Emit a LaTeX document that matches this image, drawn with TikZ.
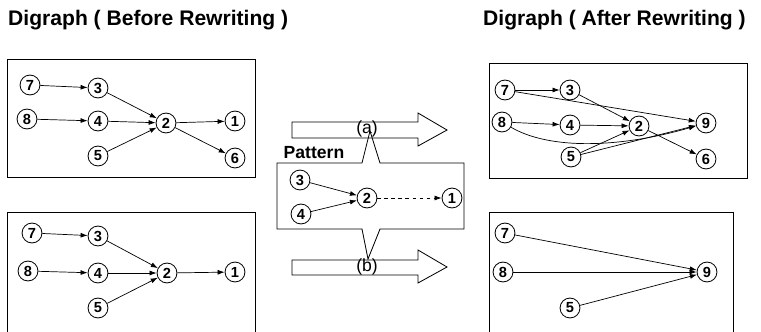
\documentclass[tikz,border=0pt]{standalone}
\usepackage{fontspec}
\setmainfont{Liberation Sans}
\usetikzlibrary{arrows.meta}
\begin{document}
\begin{tikzpicture}[x=0.03cm, y=-0.03cm,
  vertex/.style = {shape=circle, draw, line width=0.7pt,
    minimum size=17pt, inner sep=0pt, font=\fontsize{12.5}{12.5}\selectfont\bfseries},
  link/.style = {line width=0.6pt, -{Latex[length=6pt,width=4.2pt]}},
  box/.style = {line width=0.7pt},
  title/.style = {font=\fontsize{18}{18}\selectfont\bfseries,
    anchor=base west, inner sep=0pt},
  tag/.style = {font=\fontsize{15}{15}\selectfont, inner sep=0pt}]
  \useasboundingbox (0,0) rectangle (761,331);
  \node[title] (before) at (8,25) {Digraph ( Before Rewriting )};
  \node[title] (after) at (483,25) {Digraph ( After Rewriting )};

  % before, top
  \draw[box] (7,59) rectangle (255,177);
  \node[vertex] (bt7) at (30,85) {7};
  \node[vertex] (bt3) at (98,88) {3};
  \node[vertex] (bt8) at (27,119) {8};
  \node[vertex] (bt4) at (98,121) {4};
  \node[vertex] (bt2) at (166,123) {2};
  \node[vertex] (bt1) at (235,121) {1};
  \node[vertex] (bt5) at (98,156) {5};
  \node[vertex] (bt6) at (235,158) {6};
  \draw[link] (bt7) -- (bt3);
  \draw[link] (bt8) -- (bt4);
  \draw[link] (bt3) -- (bt2);
  \draw[link] (bt4) -- (bt2);
  \draw[link] (bt5) -- (bt2);
  \draw[link] (bt2) -- (bt1);
  \draw[link] (bt2) -- (bt6);

  % before, bottom
  \draw[box] (7,335) -- (7,212) -- (255,212) -- (255,335);
  \node[vertex] (bb7) at (32,233) {7};
  \node[vertex] (bb3) at (98,236) {3};
  \node[vertex] (bb8) at (28,271) {8};
  \node[vertex] (bb4) at (98,273) {4};
  \node[vertex] (bb2) at (167,273) {2};
  \node[vertex] (bb1) at (235,272) {1};
  \node[vertex] (bb5) at (98,308) {5};
  \draw[link] (bb7) -- (bb3);
  \draw[link] (bb8) -- (bb4);
  \draw[link] (bb3) -- (bb2);
  \draw[link] (bb4) -- (bb2);
  \draw[link] (bb5) -- (bb2);
  \draw[link] (bb2) -- (bb1);

  % rewriting arrows and pattern
  \draw[box] (292,122) -- (418,122) -- (418,113) -- (447,130)
    -- (418,146) -- (418,138) -- (292,138) -- cycle;
  \node[tag] (a) at (367,129) {(a)};
  \draw[box] (292,260) -- (418,260) -- (418,250) -- (447,267)
    -- (418,283) -- (418,275) -- (292,275) -- cycle;
  \node[tag] (b) at (367,267) {(b)};
  \draw[box] (277,163) -- (362,163) -- (370,131) -- (380,163) -- (464,163)
    -- (464,229) -- (380,229) -- (368,259) -- (362,229) -- (277,229) -- cycle;
  \node[font=\fontsize{15}{15}\selectfont\bfseries, inner sep=0pt]
    (pattern) at (314,153) {Pattern};
  \node[vertex] (p3) at (300,180) {3};
  \node[vertex] (p4) at (301,214) {4};
  \node[vertex] (p2) at (367,198) {2};
  \node[vertex] (p1) at (452,198) {1};
  \draw[link] (p3) -- (p2);
  \draw[link] (p4) -- (p2);
  \draw[link, dashed] (p2) -- (p1);

  % after, top
  \draw[box] (489,63) rectangle (747,178);
  \node[vertex] (at7) at (505,90) {7};
  \node[vertex] (at3) at (570,90) {3};
  \node[vertex] (at8) at (502,122) {8};
  \node[vertex] (at4) at (570,125) {4};
  \node[vertex] (at2) at (639,126) {2};
  \node[vertex] (at9) at (706,123) {9};
  \node[vertex] (at5) at (571,157) {5};
  \node[vertex] (at6) at (706,159) {6};
  \draw[link] (at7) -- (at3);
  \draw[link] (at7) -- (at9);
  \draw[link] (at8) -- (at4);
  \draw[link] (at8) .. controls (550,150) and (620,148) .. (at9);
  \draw[link] (at3) -- (at2);
  \draw[link] (at4) -- (at2);
  \draw[link] (at5) -- (at2);
  \draw[link] (at5) -- (at9);
  \draw[link] (at2) -- (at6);

  % after, bottom
  \draw[box] (489,335) -- (489,212) -- (733,212) -- (733,335);
  \node[vertex] (ab7) at (505,233) {7};
  \node[vertex] (ab8) at (503,272) {8};
  \node[vertex] (ab9) at (707,272) {9};
  \node[vertex] (ab5) at (570,308) {5};
  \draw[link] (ab7) -- (ab9);
  \draw[link] (ab8) -- (ab9);
  \draw[link] (ab5) -- (ab9);
\end{tikzpicture}
\end{document}
